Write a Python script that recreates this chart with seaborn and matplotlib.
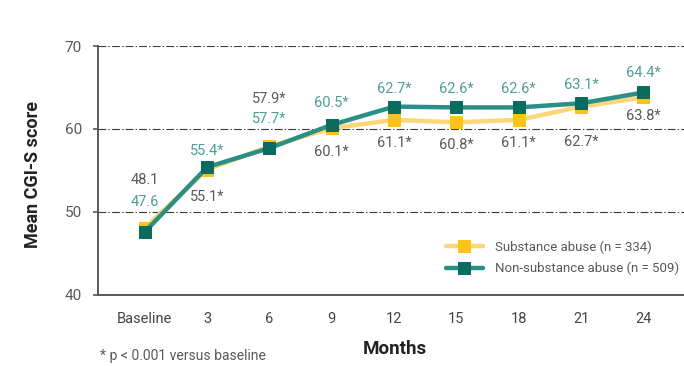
import matplotlib
matplotlib.use("Agg")
import matplotlib.pyplot as plt
import seaborn as sns
import pandas as pd

# Data
months = ["Baseline", "3", "6", "9", "12", "15", "18", "21", "24"]
substance = [48.1, 55.1, 57.9, 60.1, 61.1, 60.8, 61.1, 62.7, 63.8]
non_substance = [47.6, 55.4, 57.7, 60.5, 62.7, 62.6, 62.6, 63.1, 64.4]
substance_sig = ["", "*", "*", "*", "*", "*", "*", "*", "*"]
non_substance_sig = ["", "*", "*", "*", "*", "*", "*", "*", "*"]
substance_label = "Substance abuse (n = 334)"
non_substance_label = "Non-substance abuse (n = 509)"

sns.set_theme(style="white")
FONT = ["Roboto", "DejaVu Sans"]
plt.rcParams["font.family"] = FONT

GREY = "#595959"
YEL_LINE = "#FDD67A"
YEL_MARK = "#FDC31A"
TEAL_LINE = "#2B8F86"
TEAL_MARK = "#0A6B5E"
TEAL_TEXT = "#4E9E97"

df = pd.DataFrame({
    "idx": list(range(len(months))) * 2,
    "score": substance + non_substance,
    "group": [substance_label] * len(months) + [non_substance_label] * len(months),
})

fig = plt.figure(figsize=(6.84, 3.66), dpi=100)
W, H = 684, 366
ax = fig.add_axes([98 / W, 1 - 295 / H, (684 - 98) / W, (295 - 46) / H])

for label, lc, mc in [(substance_label, YEL_LINE, YEL_MARK),
                      (non_substance_label, TEAL_LINE, TEAL_MARK)]:
    sns.lineplot(data=df[df["group"] == label], x="idx", y="score", ax=ax,
                 color=lc, linewidth=3.2, marker="s", markersize=9,
                 markerfacecolor=mc, markeredgecolor=mc, label=label)

ax.set_xlim(-0.75, 8.65)
ax.set_ylim(40, 70)
ax.set_yticks([40, 50, 60, 70])
ax.set_xticks(range(len(months)))
ax.set_xticklabels(months)
ax.set_xlabel("")
ax.set_ylabel("")

for y in [50, 60, 70]:
    ax.axhline(y, color="#3a3a3a", linewidth=0.8, linestyle=(0, (7, 2, 1.2, 2)), zorder=0)

for side in ["top", "right"]:
    ax.spines[side].set_visible(False)
for side in ["left", "bottom"]:
    ax.spines[side].set_color(GREY)
    ax.spines[side].set_linewidth(1.4)

ax.tick_params(axis="y", length=3.5, width=1.2, color=GREY, pad=8, labelsize=11, labelcolor=GREY, left=True)
ax.tick_params(axis="x", length=0, pad=12, labelsize=10.5, labelcolor="#444444")

# Value labels (pixel offsets from each point)
sub_off = [48, -27, 47, -24, -23, -23, -23, -35, -19]
non_off = [30, 16, 29, 22, 18, 18, 18, 18, 19]
for i in range(len(months)):
    ax.annotate(f"{substance[i]:.1f}{substance_sig[i]}", (i, substance[i]),
                xytext=(0, sub_off[i]), textcoords="offset pixels",
                ha="center", va="center", fontsize=10.5, color=GREY)
    ax.annotate(f"{non_substance[i]:.1f}{non_substance_sig[i]}", (i, non_substance[i]),
                xytext=(0, non_off[i]), textcoords="offset pixels",
                ha="center", va="center", fontsize=10.5, color=TEAL_TEXT)

leg = ax.legend(loc="center left", bbox_to_anchor=(446 / W, 1 - 258 / H),
                bbox_transform=fig.transFigure, frameon=False, fontsize=9.5,
                handlelength=2.8, handletextpad=0.9, labelspacing=0.6,
                borderaxespad=0, borderpad=0)
for t in leg.get_texts():
    t.set_color(GREY)

fig.text(33 / W, 1 - 175 / H, "Mean CGI-S score", rotation=90, ha="center", va="center",
         fontsize=13, fontweight="bold", color="#222222")
fig.text(395 / W, 1 - 349 / H, "Months", ha="center", va="center",
         fontsize=13.5, fontweight="bold", color="#222222")
fig.text(100 / W, 1 - 356 / H, "* p < 0.001 versus baseline", ha="left", va="center",
         fontsize=10, color=GREY)

fig.savefig("out.png", dpi=100)
